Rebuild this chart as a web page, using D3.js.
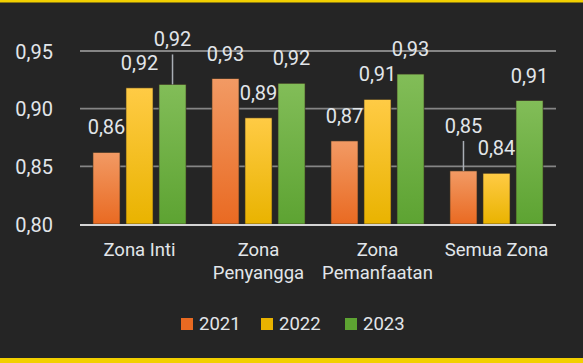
<!DOCTYPE html>
<html>
<head>
<meta charset="utf-8">
<script src="https://cdn.jsdelivr.net/npm/d3@7"></script>
<style>
  html, body { margin: 0; padding: 0; background: #252525; }
  svg text { font-family: Roboto, "Liberation Sans", sans-serif; fill: #e2e6ea; }
</style>
</head>
<body>
<div id="chart"></div>
<script>
const zones = [["Zona Inti"], ["Zona", "Penyangga"], ["Zona", "Pemanfaatan"], ["Semua Zona"]]
const years = ["2021", "2022", "2023"]
const v2021 = [0.862, 0.926, 0.872, 0.846]
const v2022 = [0.918, 0.892, 0.908, 0.844]
const v2023 = [0.921, 0.922, 0.930, 0.907]
const yTicks = [0.80, 0.85, 0.90, 0.95]
// labels pushed up with a leader line (zone index, year)
const raised = [[0, "2023"], [3, "2021"]]

document.addEventListener("DOMContentLoaded", () => {
  const width = 583, height = 363
  const colors = { "2021": ["#f29a64", "#e96a22"], "2022": ["#ffcb45", "#e9b300"], "2023": ["#82bd58", "#5da332"] }
  const series = [v2021, v2022, v2023]
  const fmt = d => d3.format(".2f")(d).replace(".", ",")

  const svg = d3.select("#chart")
                .append("svg")
                .attr("width", width)
                .attr("height", height)

  svg.append("rect").attr("width", width).attr("height", height).attr("fill", "#252525")
  // yellow frame
  svg.append("rect").attr("x", 0).attr("y", 0).attr("width", width).attr("height", 2.5).attr("fill", "#f2d000")
  svg.append("rect").attr("x", 0).attr("y", 358).attr("width", width).attr("height", 5).attr("fill", "#f2d000")

  const defs = svg.append("defs")
  years.forEach(y => {
    const g = defs.append("linearGradient").attr("id", "g" + y).attr("x1", 0).attr("x2", 0).attr("y1", 0).attr("y2", 1)
    g.append("stop").attr("offset", "0%").attr("stop-color", colors[y][0])
    g.append("stop").attr("offset", "100%").attr("stop-color", colors[y][1])
  })

  const x0 = d3.scaleBand().domain(d3.range(zones.length)).range([80, 556]).paddingInner(0.218).paddingOuter(0.109)
  const x1 = d3.scaleBand().domain(years).range([0, x0.bandwidth()]).paddingInner(0.182)
  const yScale = d3.scaleLinear().domain([0.80, 0.95]).range([224, 51])

  // gridlines
  svg.append("g")
     .selectAll("line")
     .data(yTicks.slice(1))
     .join("line")
     .attr("x1", 80).attr("x2", 556)
     .attr("y1", d => yScale(d)).attr("y2", d => yScale(d))
     .attr("stroke", "#858585").attr("stroke-width", 1.8)

  const yAxis = d3.axisLeft(yScale).tickValues(yTicks).tickSize(0).tickPadding(0).tickFormat(fmt)
  svg.append("g")
     .attr("transform", "translate(53,0)")
     .call(yAxis)
     .call(g => g.select(".domain").remove())
     .selectAll("text")
     .attr("font-size", 20).attr("dy", "0.35em")

  // bars
  zones.forEach((z, i) => {
    years.forEach((yr, j) => {
      const v = series[j][i]
      const bx = x0(i) + x1(yr)
      svg.append("rect")
         .attr("x", bx).attr("y", yScale(v))
         .attr("width", x1.bandwidth()).attr("height", yScale(0.80) - yScale(v))
         .attr("fill", "url(#g" + yr + ")")
         .attr("stroke", "#3a3020").attr("stroke-width", 0.6)
      const cx = bx + x1.bandwidth() / 2
      const up = raised.some(r => r[0] === i && r[1] === yr)
      const ly = yScale(v) - (up ? 45 : 25)
      if (up) {
        svg.append("line")
           .attr("x1", cx).attr("x2", cx)
           .attr("y1", yScale(v)).attr("y2", ly + 15)
           .attr("stroke", "#a9aeb5").attr("stroke-width", 1.5)
      }
      svg.append("text")
         .attr("x", cx).attr("y", ly)
         .attr("text-anchor", "middle").attr("dy", "0.35em")
         .attr("font-size", 20)
         .text(fmt(v))
    })
  })

  // baseline
  svg.append("line")
     .attr("x1", 80).attr("x2", 556)
     .attr("y1", yScale(0.80) + 1).attr("y2", yScale(0.80) + 1)
     .attr("stroke", "#d4d4d4").attr("stroke-width", 2.2)

  // category labels
  zones.forEach((lines, i) => {
    const cx = x0(i) + x0.bandwidth() / 2
    const t = svg.append("text")
                 .attr("x", cx).attr("y", 256)
                 .attr("text-anchor", "middle").attr("font-size", 18.5)
    lines.forEach((l, k) => t.append("tspan").attr("x", cx).attr("dy", k ? 23 : 0).text(l))
  })

  // legend
  const legendX = [181, 261, 345]
  years.forEach((yr, j) => {
    const lg = svg.append("g").attr("transform", "translate(" + legendX[j] + ",318)")
    lg.append("rect").attr("width", 12).attr("height", 12).attr("fill", colors[yr][1])
    lg.append("text").attr("x", 18).attr("y", 12).attr("font-size", 18.5).text(yr)
  })
})
</script>
</body>
</html>
